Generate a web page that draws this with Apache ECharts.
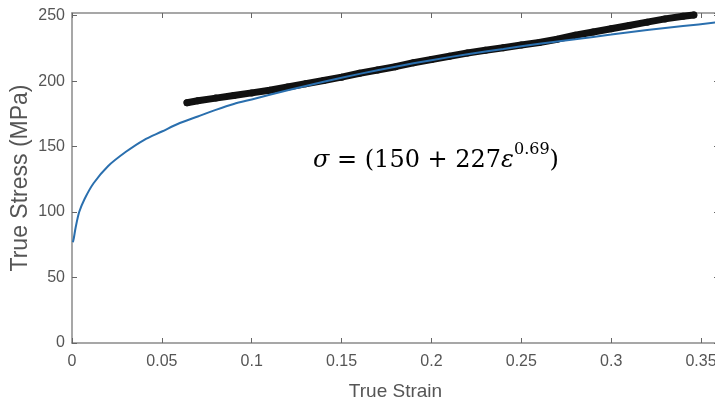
<!DOCTYPE html>
<html>
<head>
<meta charset="utf-8">
<script src="https://cdn.jsdelivr.net/npm/echarts@6/dist/echarts.min.js"></script>
<style>
  html, body { margin: 0; padding: 0; background: #fff; }
  #chart { width: 715px; height: 405px; }
</style>
</head>
<body>
<div id="chart"></div>
<script>
// Measured true strain / true stress points (tensile test)
const testStrain = [0.064, 0.07, 0.08, 0.09, 0.10, 0.11, 0.12, 0.13, 0.14, 0.15,
  0.16, 0.17, 0.18, 0.19, 0.20, 0.21, 0.22, 0.23, 0.24, 0.25,
  0.26, 0.27, 0.28, 0.29, 0.30, 0.31, 0.32, 0.33, 0.34, 0.346];
const testStress = [183.5, 185, 187, 189, 191, 193, 195.5, 198, 200.5, 203,
  206, 208.5, 211, 214, 216.5, 219, 221.5, 223.5, 225.5, 227.5,
  229.5, 232, 235, 237.5, 240, 242.5, 245, 247.5, 249.5, 250.5];

// Fitted hardening curve
const fitStrain = [0.0005, 0.001, 0.002, 0.004, 0.007, 0.012, 0.02, 0.03, 0.04, 0.05,
  0.06, 0.07, 0.08, 0.09, 0.10, 0.12, 0.14, 0.16, 0.18, 0.20,
  0.22, 0.24, 0.26, 0.28, 0.30, 0.32, 0.34, 0.36];
const fitStress = [77, 80, 88, 100, 110, 122, 135, 146, 155, 161.5,
  168, 173, 178, 182.5, 186, 193, 199.5, 205.5, 211, 216,
  220.5, 224.5, 228.5, 232, 235.5, 239, 242, 245];

const xTitle = 'True Strain';
const yTitle = 'True Stress (MPa)';

const pair = (xs, ys) => xs.map((x, i) => [x, ys[i]]);

const axisGray = '#8a8a8a';
const textGray = '#555';
const sans = "'Liberation Sans', Arial, sans-serif";

const chart = echarts.init(document.getElementById('chart'), null, { renderer: 'canvas' });
chart.setOption({
  backgroundColor: '#fff',
  animation: false,
  grid: { left: 72, right: -4, top: 13, bottom: 62, show: false,
          containLabel: false, outerBoundsMode: 'none' },
  xAxis: [{
    type: 'value', min: 0, max: 0.36, interval: 0.05,
    name: xTitle, nameLocation: 'middle', nameGap: 39, nameMoveOverlap: false,
    nameTextStyle: { color: textGray, fontSize: 19, fontFamily: sans },
    axisLine: { show: true, lineStyle: { color: axisGray, width: 1.5 } },
    axisTick: { show: true, inside: true, length: 5, lineStyle: { color: '#666' } },
    axisLabel: { color: textGray, fontSize: 16, fontFamily: sans, margin: 11, showMaxLabel: false },
    splitLine: { show: false }
  }, {
    type: 'value', position: 'top', min: 0, max: 0.36, interval: 0.05,
    axisLine: { show: true, onZero: false, lineStyle: { color: axisGray, width: 1.5 } },
    axisTick: { show: true, inside: true, length: 5, lineStyle: { color: '#666' } },
    axisLabel: { show: false }, splitLine: { show: false }
  }],
  yAxis: [{
    type: 'value', min: 0, max: 252, interval: 50,
    name: yTitle, nameLocation: 'middle', nameGap: 40, nameMoveOverlap: false,
    nameTextStyle: { color: textGray, fontSize: 23, fontFamily: sans },
    axisLine: { show: true, lineStyle: { color: axisGray, width: 1.5 } },
    axisTick: { show: true, inside: true, length: 5, lineStyle: { color: '#666' } },
    axisLabel: { color: textGray, fontSize: 16, fontFamily: sans, margin: 7, showMaxLabel: false },
    splitLine: { show: false }
  }, {
    type: 'value', position: 'right', min: 0, max: 252, interval: 50,
    axisLine: { show: true, onZero: false, lineStyle: { color: axisGray, width: 1.5 } },
    axisTick: { show: true, inside: true, length: 5, lineStyle: { color: '#666' } },
    axisLabel: { show: false }, splitLine: { show: false }
  }],
  series: [{
    name: 'Test data',
    type: 'line',
    data: pair(testStrain, testStress),
    symbol: 'circle', symbolSize: 7, showSymbol: true,
    itemStyle: { color: '#111' },
    lineStyle: { color: '#111', width: 7, cap: 'round', join: 'round' },
    z: 2
  }, {
    name: 'Fit',
    type: 'line',
    data: pair(fitStrain, fitStress),
    smooth: 0.3, showSymbol: false,
    lineStyle: { color: '#2a6fae', width: 2 },
    z: 3
  }],
  graphic: [{
    type: 'text',
    left: 313, top: 142,
    style: {
      text: '{it|σ}{n| = (150 + 227}{it|ε}{sup|0.69}{n|)}',
      fill: '#000',
      rich: {
        n: { fontFamily: "'DejaVu Serif', serif", fontSize: 24, lineHeight: 31, verticalAlign: 'bottom' },
        it: { fontFamily: "'DejaVu Serif', serif", fontStyle: 'italic', fontSize: 24, lineHeight: 31, verticalAlign: 'bottom' },
        sup: { fontFamily: "'DejaVu Serif', serif", fontSize: 16, lineHeight: 31, verticalAlign: 'top' }
      }
    }
  }]
});
</script>
</body>
</html>
